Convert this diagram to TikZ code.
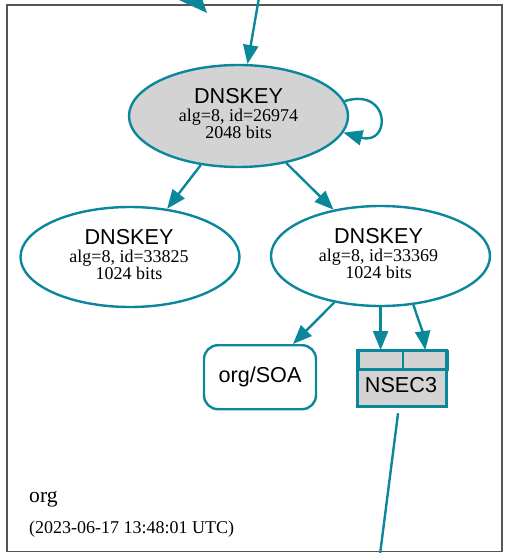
\documentclass[tikz,border=0pt]{standalone}
\usepackage{fontspec}
\setmainfont{Liberation Serif}
\setsansfont{Liberation Sans}
\usetikzlibrary{arrows.meta,shapes.geometric}
\definecolor{secure}{HTML}{0A879A}
\definecolor{keyfill}{HTML}{D3D3D3}
\definecolor{zoneline}{HTML}{555555}

\begin{document}
\begin{tikzpicture}[x=1pt,y=-1pt,
  key/.style={ellipse, draw=secure, line width=2.4pt, minimum width=219pt,
    minimum height=100pt, inner sep=0pt},
  edge/.style={draw=secure, line width=2.4pt, -{Triangle[length=19pt,width=15pt]}},
  bigedge/.style={draw=secure, line width=2.4pt, -{Triangle[length=30pt,width=25pt]}},
  title/.style={font=\sffamily\fontsize{21.6}{24}\selectfont, anchor=base, inner sep=0pt},
  detail/.style={font=\fontsize{18}{20}\selectfont, anchor=base, inner sep=0pt},
  cell/.style={draw=secure, line width=2.2pt, fill=keyfill, inner sep=0pt},
]
\useasboundingbox (0,0) rectangle (504,553);
\clip (0,0) rectangle (504,553);

% zone box
\draw[zoneline, line width=1.2pt] (7,5) rectangle (502,551.5);

% KSK
\node[key, fill=keyfill, minimum height=102pt] (k1) at (238.5,116) {};
\node[title]  (k1t) at (238.5,103.5) {DNSKEY};
\node[detail] (k1a) at (238.5,121.7) {alg=8, id=26974};
\node[detail] (k1b) at (238.5,139)   {2048 bits};

% ZSKs
\node[key] (k2) at (130,257) {};
\node[title]  (k2t) at (129,244)   {DNSKEY};
\node[detail] (k2a) at (129,262.7) {alg=8, id=33825};
\node[detail] (k2b) at (129,279.3) {1024 bits};

\node[key] (k3) at (380.5,256) {};
\node[title]  (k3t) at (378.5,243)   {DNSKEY};
\node[detail] (k3a) at (378.5,261.7) {alg=8, id=33369};
\node[detail] (k3b) at (378.5,278.3) {1024 bits};

% SOA
\node[draw=secure, line width=2.4pt, rounded corners=14pt, minimum width=112pt,
  minimum height=64pt, inner sep=0pt, font=\sffamily\fontsize{21.6}{24}\selectfont]
  (soa) at (260,377.2) {org/SOA};

% NSEC3
\node[draw=secure, line width=3pt, fill=keyfill, minimum width=89.4pt,
  minimum height=56.7pt, inner sep=0pt] (ns) at (402,378.35) {};
\node[cell, minimum width=44.4pt, minimum height=18.3pt, anchor=north west]
  (p1) at (357.3,350) {};
\node[cell, minimum width=45pt, minimum height=18.3pt, anchor=north west]
  (p2) at (401.7,350) {};
\node[draw=secure, line width=3pt, minimum width=89.4pt, minimum height=56.7pt,
  inner sep=0pt] (nsb) at (402,378.35) {};
\node[title] (nst) at (401,392.7) {NSEC3};

% incoming edges
\coordinate (in1) at (261,-14);
\coordinate (in2) at (171,-27);
\coordinate (in2end) at (207,13);
\draw[edge] (in1) -- (k1);
\draw[bigedge] (in2) -- (in2end);

% self-signature
\draw[edge] (k1.8) .. controls (391,87) and (391,146) .. (k1.-9);

% key edges
\draw[edge] (k1) -- (k2);
\draw[edge] (k1) -- (k3);
\draw[edge] (k3) -- (soa);
\draw[edge] (k3.south -| p1.north) -- (p1.north);
\draw[edge] (k3.-56) to[out=-72,in=98] (p2.north);

% outgoing edge
\coordinate (out1) at (378,570);
\draw[secure, line width=2.4pt, shorten <=5pt] (nsb.south -| 398.7,0) -- (out1);

% zone labels
\node[anchor=base west, inner sep=0pt, font=\fontsize{21.6}{24}\selectfont]
  (zname) at (29,502.7) {org};
\node[anchor=base west, inner sep=0pt, font=\fontsize{18}{20}\selectfont]
  (ztime) at (29,533.3) {(2023-06-17 13:48:01 UTC)};
\end{tikzpicture}
\end{document}
